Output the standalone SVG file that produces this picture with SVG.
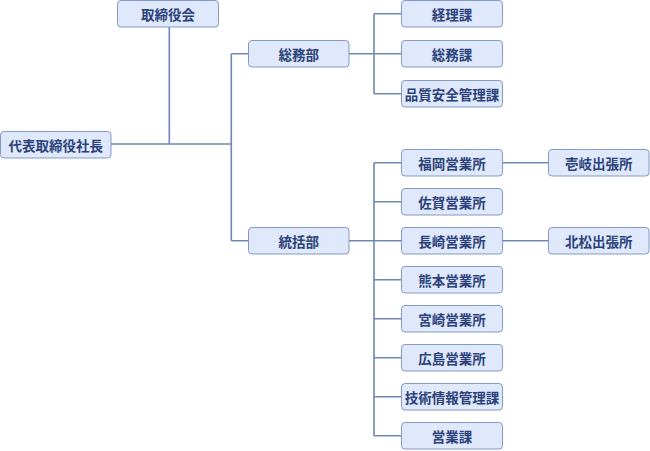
<svg xmlns="http://www.w3.org/2000/svg" width="650" height="451" viewBox="0 0 650 451">
<style>
.box{fill:#dfe9fb;stroke:#8299c4;stroke-width:1}
.lbl{font-family:"Noto Sans CJK JP","Noto Sans CJK SC",sans-serif;font-size:13.5px;fill:#2b417a;text-anchor:middle;dominant-baseline:central;font-weight:bold}
.ln{stroke:#6e87b5;stroke-width:1.6;fill:none}
</style>
<rect width="650" height="451" fill="#ffffff"/>
<g id="connectors">
<path class="ln" d="M111,144 H231.3 M169.3,27 V144 M231.3,53.8 V240.7 M231.3,53.8 H248.5 M231.3,240.7 H248.5"/>
<path class="ln" d="M349,53.8 H374 M374,13.8 V93.8 M374,13.8 H401.5 M374,53.8 H401.5 M374,93.8 H401.5"/>
<path class="ln" d="M349,240.7 H374 M374,162.7 V435.7 M374,162.7 H401.5 M374,201.7 H401.5 M374,240.7 H401.5 M374,279.7 H401.5 M374,318.7 H401.5 M374,357.7 H401.5 M374,396.7 H401.5 M374,435.7 H401.5"/>
<path class="ln" d="M502.5,162.7 H548.5 M502.5,240.7 H548.5"/>
</g>
<g id="n_board"><rect class="box" x="117.5" y="0.5" width="101" height="26.5" rx="3.5"/><text class="lbl" x="168" y="13.8">取締役会</text></g>
<g id="n_president"><rect class="box" x="0.5" y="131.5" width="110.5" height="26.5" rx="3.5"/><text class="lbl" x="55.7" y="144.8">代表取締役社長</text></g>
<g id="n_soumubu"><rect class="box" x="248.5" y="40.5" width="100.5" height="26.5" rx="3.5"/><text class="lbl" x="298.7" y="53.8">総務部</text></g>
<g id="n_toukatsubu"><rect class="box" x="248.5" y="227.5" width="100.5" height="26.5" rx="3.5"/><text class="lbl" x="298.7" y="240.7">統括部</text></g>
<g id="n_keiri"><rect class="box" x="401.5" y="0.5" width="101" height="26.5" rx="3.5"/><text class="lbl" x="452" y="13.8">経理課</text></g>
<g id="n_soumuka"><rect class="box" x="401.5" y="40.5" width="101" height="26.5" rx="3.5"/><text class="lbl" x="452" y="53.8">総務課</text></g>
<g id="n_hinshitsu"><rect class="box" x="401.5" y="80.5" width="101" height="26.5" rx="3.5"/><text class="lbl" x="452" y="93.8">品質安全管理課</text></g>
<g id="n_fukuoka"><rect class="box" x="401.5" y="149.5" width="101" height="26.5" rx="3.5"/><text class="lbl" x="452" y="162.7">福岡営業所</text></g>
<g id="n_saga"><rect class="box" x="401.5" y="188.5" width="101" height="26.5" rx="3.5"/><text class="lbl" x="452" y="201.7">佐賀営業所</text></g>
<g id="n_nagasaki"><rect class="box" x="401.5" y="227.5" width="101" height="26.5" rx="3.5"/><text class="lbl" x="452" y="240.7">長崎営業所</text></g>
<g id="n_kumamoto"><rect class="box" x="401.5" y="266.5" width="101" height="26.5" rx="3.5"/><text class="lbl" x="452" y="279.7">熊本営業所</text></g>
<g id="n_miyazaki"><rect class="box" x="401.5" y="305.5" width="101" height="26.5" rx="3.5"/><text class="lbl" x="452" y="318.7">宮崎営業所</text></g>
<g id="n_hiroshima"><rect class="box" x="401.5" y="344.5" width="101" height="26.5" rx="3.5"/><text class="lbl" x="452" y="357.7">広島営業所</text></g>
<g id="n_gijutsu"><rect class="box" x="401.5" y="383.5" width="101" height="26.5" rx="3.5"/><text class="lbl" x="452" y="396.7">技術情報管理課</text></g>
<g id="n_eigyouka"><rect class="box" x="401.5" y="422.5" width="101" height="26.5" rx="3.5"/><text class="lbl" x="452" y="435.7">営業課</text></g>
<g id="n_iki"><rect class="box" x="548.5" y="149.5" width="100.5" height="26.5" rx="3.5"/><text class="lbl" x="598.7" y="162.7">壱岐出張所</text></g>
<g id="n_hokusho"><rect class="box" x="548.5" y="227.5" width="100.5" height="26.5" rx="3.5"/><text class="lbl" x="598.7" y="240.7">北松出張所</text></g>
</svg>
